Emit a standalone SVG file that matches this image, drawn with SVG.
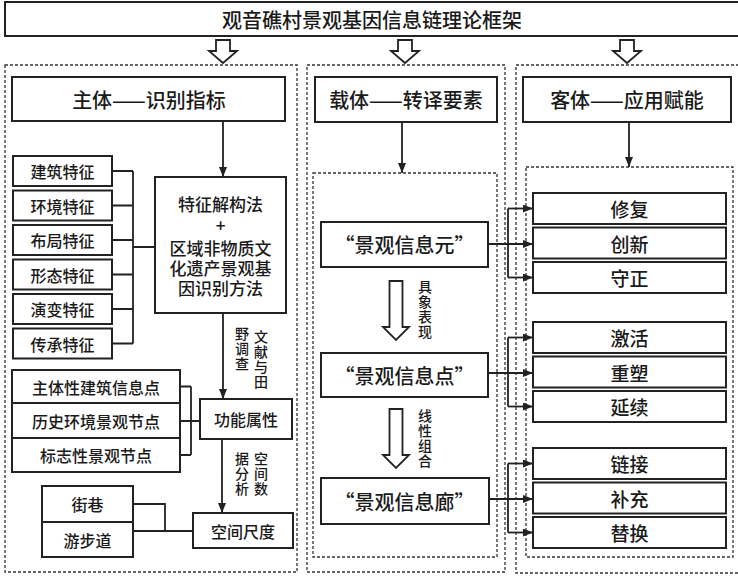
<svg xmlns="http://www.w3.org/2000/svg" width="738" height="576" viewBox="0 0 738 576">
<defs>
<style>
.box{fill:#fff;stroke:#222;stroke-width:2}
.dash{fill:none;stroke:#333;stroke-width:1.3;stroke-dasharray:3,2}
.ln{fill:none;stroke:#222;stroke-width:1.8}
.hol{fill:#fff;stroke:#222;stroke-width:1.8;stroke-linejoin:miter}
text{font-family:"Noto Sans CJK SC","Noto Sans",sans-serif;font-weight:500;fill:#1a1a1a;text-anchor:middle;dominant-baseline:central}
.t20{font-size:20px}
.t17{font-size:17px}
.t16{font-size:16px}
.t19{font-size:19px}
.v{font-size:14px;writing-mode:vertical-rl;text-anchor:start;letter-spacing:1px}
</style>
<marker id="ah" viewBox="0 0 10 8" markerWidth="10" markerHeight="8" refX="10" refY="4" orient="auto" markerUnits="userSpaceOnUse">
<path d="M0,0 L10,4 L0,8 Z" fill="#222"/>
</marker>
</defs>
<rect width="738" height="576" fill="#fff"/>

<g id="title">
<rect class="box" x="5" y="2" width="740" height="34"/>
<text class="t20" x="372" y="19">观音礁村景观基因信息链理论框架</text>
</g>

<g id="panels">
<rect class="dash" x="5" y="65" width="292" height="507"/>
<rect class="dash" x="307" y="65" width="198" height="507"/>
<rect class="dash" x="516" y="65" width="232" height="508"/>
<rect class="dash" x="313" y="173" width="184" height="384"/>
<rect class="dash" x="526" y="167" width="207" height="390"/>
</g>

<g id="connectors">
<path class="hol" d="M216,40 H230 V51 H237 L223,63 L209,51 H216 Z"/>
<path class="hol" d="M398,40 H412 V51 H419 L405,63 L391,51 H398 Z"/>
<path class="hol" d="M620,40 H634 V51 H641 L627,63 L613,51 H620 Z"/>
<line class="ln" x1="223" y1="121" x2="223" y2="177" marker-end="url(#ah)"/>
<line class="ln" x1="402" y1="122" x2="402" y2="173" marker-end="url(#ah)"/>
<line class="ln" x1="629" y1="122" x2="629" y2="167" marker-end="url(#ah)"/>
<path class="ln" d="M112,171 H133 M112,205.5 H133 M112,240 H133 M112,274.5 H133 M112,309 H133 M112,343.5 H133 M133,171 V343.5 M133,247 H155"/>
<line class="ln" x1="223" y1="313" x2="223" y2="399" marker-end="url(#ah)"/>
<path class="ln" d="M180,386.5 H191 M180,455 H191 M191,386.5 V455 M180,421 H200"/>
<line class="ln" x1="222" y1="439" x2="222" y2="513" marker-end="url(#ah)"/>
<path class="ln" d="M133,504 H165 V531 M133,531 H193"/>
<path class="hol" d="M389.5,281 H402.5 V327 H409 L396,340 L383,327 H389.5 Z"/>
<path class="hol" d="M389.5,409 H402.5 V455 H409 L396,468 L383,455 H389.5 Z"/>
<line class="ln" x1="488" y1="244" x2="533" y2="244" marker-end="url(#ah)"/>
<path class="ln" d="M508,208.5 V277.5"/>
<line class="ln" x1="508" y1="208.5" x2="533" y2="208.5" marker-end="url(#ah)"/>
<line class="ln" x1="508" y1="277.5" x2="533" y2="277.5" marker-end="url(#ah)"/>
<line class="ln" x1="488" y1="373" x2="533" y2="373" marker-end="url(#ah)"/>
<path class="ln" d="M508,337.5 V406.5"/>
<line class="ln" x1="508" y1="337.5" x2="533" y2="337.5" marker-end="url(#ah)"/>
<line class="ln" x1="508" y1="406.5" x2="533" y2="406.5" marker-end="url(#ah)"/>
<line class="ln" x1="489" y1="499" x2="533" y2="499" marker-end="url(#ah)"/>
<path class="ln" d="M508,463.5 V532.5"/>
<line class="ln" x1="508" y1="463.5" x2="533" y2="463.5" marker-end="url(#ah)"/>
<line class="ln" x1="508" y1="532.5" x2="533" y2="532.5" marker-end="url(#ah)"/>
</g>

<g id="labels">
<text class="v" x="261" y="330">文献与田</text>
<text class="v" x="242" y="327">野调查</text>
<text class="v" x="261" y="452">空间数</text>
<text class="v" x="242" y="452">据分析</text>
<text class="v" x="425" y="280">具象表现</text>
<text class="v" x="425" y="409">线性组合</text>
</g>

<g id="h-subject"><rect class="box" x="12" y="77" width="273" height="44"/><text class="t20" x="149" y="99">主体——识别指标</text></g>
<g id="h-carrier"><rect class="box" x="315" y="77" width="182" height="45"/><text class="t20" x="406" y="99.5">载体——转译要素</text></g>
<g id="h-object"><rect class="box" x="523" y="77" width="208" height="45"/><text class="t20" x="627" y="99.5">客体——应用赋能</text></g>

<g id="method"><rect class="box" x="155" y="177" width="131" height="136"/>
<text class="t17"><tspan x="220.5" y="203">特征解构法</tspan><tspan x="220.5" y="224">+</tspan><tspan x="220.5" y="247">区域非物质文</tspan><tspan x="220.5" y="267">化遗产景观基</tspan><tspan x="220.5" y="287">因识别方法</tspan></text></g>

<g id="f1"><rect class="box" x="13" y="156" width="99" height="30"/><text class="t16" x="62.5" y="171">建筑特征</text></g>
<g id="f2"><rect class="box" x="13" y="190.5" width="99" height="30"/><text class="t16" x="62.5" y="205.5">环境特征</text></g>
<g id="f3"><rect class="box" x="13" y="225" width="99" height="30"/><text class="t16" x="62.5" y="240">布局特征</text></g>
<g id="f4"><rect class="box" x="13" y="259.5" width="99" height="30"/><text class="t16" x="62.5" y="274.5">形态特征</text></g>
<g id="f5"><rect class="box" x="13" y="294" width="99" height="30"/><text class="t16" x="62.5" y="309">演变特征</text></g>
<g id="f6"><rect class="box" x="13" y="328.5" width="99" height="30"/><text class="t16" x="62.5" y="343.5">传承特征</text></g>

<g id="func"><rect class="box" x="200" y="399" width="92" height="40"/><text class="t16" x="246" y="419">功能属性</text></g>
<g id="n1"><rect class="box" x="12" y="370" width="168" height="33"/><text class="t16" x="96" y="386.5">主体性建筑信息点</text></g>
<g id="n2"><rect class="box" x="12" y="403" width="168" height="35"/><text class="t16" x="96" y="420.5">历史环境景观节点</text></g>
<g id="n3"><rect class="box" x="12" y="438" width="168" height="34"/><text class="t16" x="96" y="455">标志性景观节点</text></g>

<g id="scale"><rect class="box" x="193" y="513" width="100" height="35"/><text class="t16" x="243" y="530.5">空间尺度</text></g>
<g id="s1"><rect class="box" x="42" y="486" width="91" height="36"/><text class="t16" x="87.5" y="504">街巷</text></g>
<g id="s2"><rect class="box" x="42" y="522" width="91" height="35"/><text class="t16" x="87.5" y="539.5">游步道</text></g>

<g id="m1"><rect class="box" x="321" y="222" width="167" height="45"/><text class="t20" x="404.5" y="244.5">“景观信息元”</text></g>
<g id="m2"><rect class="box" x="321" y="353" width="167" height="44"/><text class="t20" x="404.5" y="375">“景观信息点”</text></g>
<g id="m3"><rect class="box" x="321" y="478" width="168" height="46"/><text class="t20" x="404.5" y="501">“景观信息廊”</text></g>

<g id="r1"><rect class="box" x="533" y="193" width="193" height="31"/><text class="t19" x="629.5" y="208.5">修复</text></g>
<g id="r2"><rect class="box" x="533" y="227.5" width="193" height="31"/><text class="t19" x="629.5" y="243">创新</text></g>
<g id="r3"><rect class="box" x="533" y="262" width="193" height="31"/><text class="t19" x="629.5" y="277.5">守正</text></g>
<g id="r4"><rect class="box" x="533" y="322" width="193" height="31"/><text class="t19" x="629.5" y="337.5">激活</text></g>
<g id="r5"><rect class="box" x="533" y="356.5" width="193" height="31"/><text class="t19" x="629.5" y="372">重塑</text></g>
<g id="r6"><rect class="box" x="533" y="391" width="193" height="31"/><text class="t19" x="629.5" y="406.5">延续</text></g>
<g id="r7"><rect class="box" x="533" y="448" width="193" height="31"/><text class="t19" x="629.5" y="463.5">链接</text></g>
<g id="r8"><rect class="box" x="533" y="482.5" width="193" height="31"/><text class="t19" x="629.5" y="498">补充</text></g>
<g id="r9"><rect class="box" x="533" y="517" width="193" height="31"/><text class="t19" x="629.5" y="532.5">替换</text></g>
</svg>
